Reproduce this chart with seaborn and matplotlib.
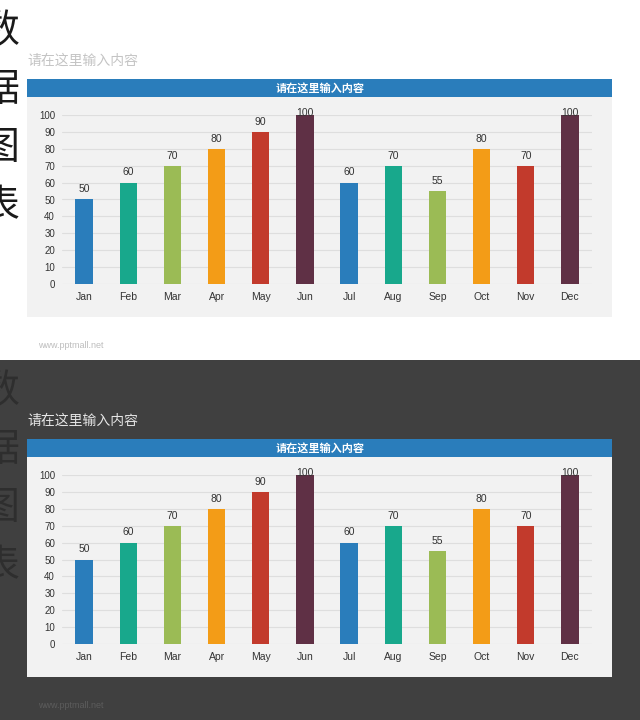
import matplotlib
matplotlib.use("Agg")
import matplotlib.pyplot as plt
import seaborn as sns
import pandas as pd
from matplotlib.patches import Rectangle

months = ["Jan", "Feb", "Mar", "Apr", "May", "Jun",
          "Jul", "Aug", "Sep", "Oct", "Nov", "Dec"]
values = [50, 60, 70, 80, 90, 100, 60, 70, 55, 80, 70, 100]
bar_colors = ["#2a7dbb", "#18a88c", "#9bbb55", "#f39c17", "#c23a2c", "#5f3045",
              "#2a7dbb", "#18a88c", "#9bbb55", "#f39c17", "#c23a2c", "#5f3045"]
y_ticks = list(range(0, 101, 10))
side_chars = ["数", "据", "图", "表"]
subtitle = "请在这里输入内容"
chart_title = "请在这里输入内容"
site = "www.pptmall.net"

W, H = 640, 720

sns.set_style("white")
plt.rcParams["font.family"] = ["Liberation Sans", "Noto Sans CJK SC", "DejaVu Sans"]

df = pd.DataFrame({"month": months, "value": values})


def fx(px):
    return px / W


def fy(py):
    return 1 - py / H


def add_rect(fig, x0, y0, x1, y1, color):
    fig.add_artist(Rectangle((fx(x0), fy(y1)), fx(x1) - fx(x0), fy(y0) - fy(y1),
                             transform=fig.transFigure, color=color,
                             zorder=-5, lw=0))


def draw_panel(fig, off, dark):
    # slide background
    add_rect(fig, 0, off, W, off + 360, "#404040" if dark else "#ffffff")

    # big vertical characters, cut by the left edge like in the slide
    for i, ch in enumerate(side_chars):
        fig.text(fx(0), fy(off + 32 + i * 58), ch, fontsize=28,
                 family=["Noto Sans CJK SC"], ha="center", va="center",
                 color="#2e2e2e" if dark else "#1a1a1a")

    fig.text(fx(27), fy(off + 61), subtitle, fontsize=10,
             family=["Noto Sans CJK SC"], ha="left", va="center",
             color="#e6e6e6" if dark else "#c4c4c4")

    # title bar and chart area
    add_rect(fig, 27, off + 79, 612, off + 97, "#2a7dbb")
    add_rect(fig, 27, off + 97, 612, off + 317, "#f2f2f2")
    fig.text(fx(320), fy(off + 88), chart_title, fontsize=8, weight="bold",
             family=["Noto Sans CJK SC"], ha="center", va="center",
             color="white")

    fig.text(fx(38), fy(off + 345), site, fontsize=6.5, ha="left",
             va="center", color="#5c5c5c" if dark else "#bdbdbd")

    ax = fig.add_axes([fx(62), fy(off + 284), fx(592) - fx(62),
                       fy(off + 115) - fy(off + 284)])
    sns.barplot(data=df, x="month", y="value", hue="month",
                palette=bar_colors, legend=False, width=0.39,
                saturation=1, linewidth=0, edgecolor="none", ax=ax)
    ax.set_facecolor("none")
    ax.set_xlim(-0.5, 11.5)
    ax.set_ylim(0, 100)
    ax.set_yticks(y_ticks)
    ax.set_xlabel("")
    ax.set_ylabel("")
    ax.grid(axis="y", color="#dedede", lw=0.8)
    ax.set_axisbelow(True)
    for s in ax.spines.values():
        s.set_visible(False)
    ax.tick_params(axis="both", length=0, labelcolor="#333333")
    ax.tick_params(axis="x", pad=6, labelsize=7.5)
    ax.tick_params(axis="y", pad=5, labelsize=7)
    # value labels: kept inside the plot area, so the 100s sit on the bar top
    for i, v in enumerate(values):
        ax.text(i, min(v + 6, 101.3), str(v), ha="center", va="center",
                fontsize=7.5, color="#333333", clip_on=False)


fig = plt.figure(figsize=(6.4, 7.2), dpi=100)
draw_panel(fig, 0, False)
draw_panel(fig, 360, True)
fig.savefig("out.png", dpi=100)
